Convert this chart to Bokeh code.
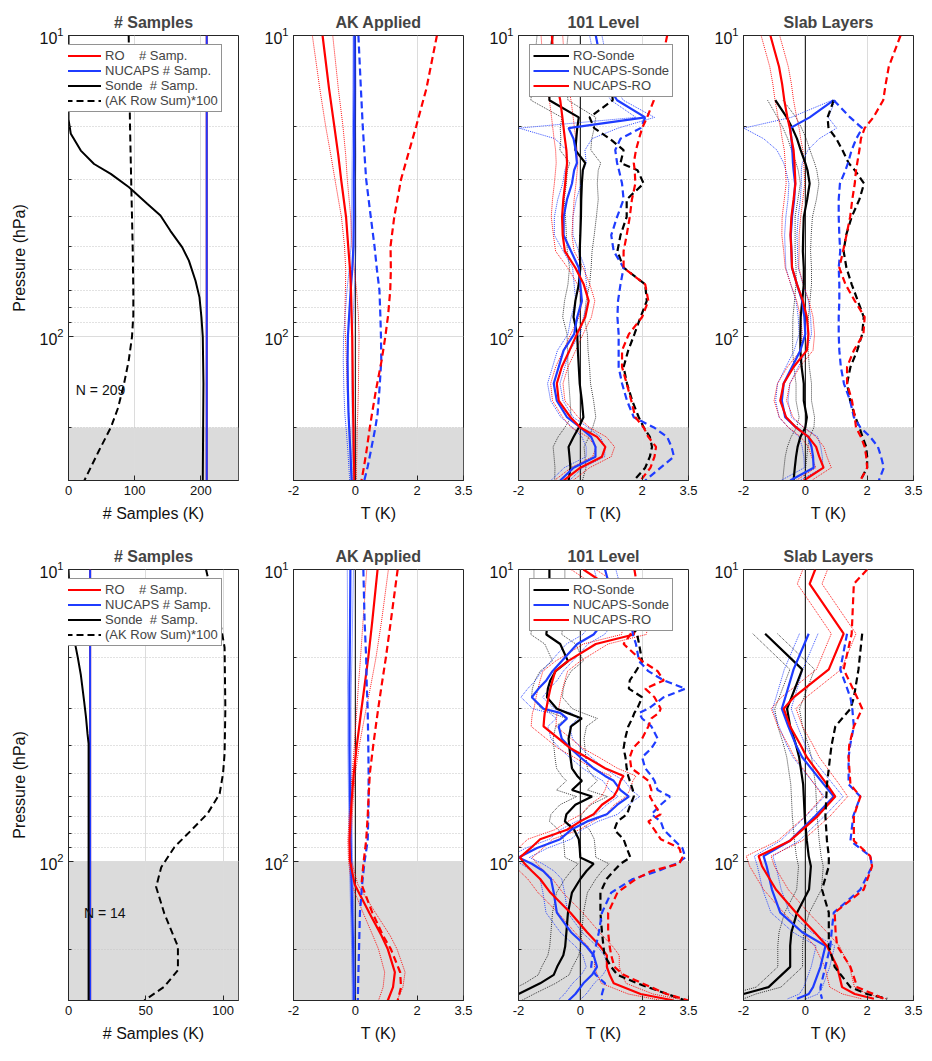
import numpy as np
from bokeh.plotting import figure
from bokeh.models import (Range1d, FixedTicker, BoxAnnotation, Legend, LegendItem,
                          Span, Label, LogTickFormatter)
from bokeh.layouts import column, row
from bokeh.embed import file_html
from bokeh.resources import INLINE

nan = float("nan")

# ---------------- DATA ----------------
P_TOP, P_BOTTOM = 10, 300
row_titles = ["# Samples", "AK Applied", "101 Level", "Slab Layers"]
n_samples = [209, 14]
shade_top = [200, 100]          # grey (low-level) region upper pressure per row

# panel 1, top row
sonde_p_top = [10, 19, 21.2, 24.1, 26.7, 28.8, 31.9, 36.2, 39.6, 44.5, 50.5, 55.9, 65.2, 74, 86.3, 100, 143, 300]
sonde_n_top = [0, 0, 3.5, 18.6, 38.7, 63.9, 91.5, 119, 139, 154, 172, 182, 192, 198, 201, 203, 204, 203]
ak_p_top = [10, 20, 32, 50, 70, 85, 100, 120, 143, 172, 200, 239, 300]
ak_sum_top = [91, 93, 95, 97, 98, 98, 96, 91, 84, 75, 64, 46, 24]
ro_n_top = [209, 209]
nucaps_n_top = [209, 209]
# panel 1, bottom row
sonde_p_bot = [10, 13, 16.2, 20, 23, 28, 32, 36.6, 39.5, 60, 100, 300]
sonde_n_bot = [0, 1, 2.6, 6, 8, 10, 11.3, 12.3, 13, 13, 13, 13]
ak_p_bot = [10, 12.4, 15, 18.5, 30, 42.8, 50, 58.7, 68.6, 78.3, 89.3, 104.8, 122.5, 151, 196, 236, 269, 300]
ak_sum_bot = [89, 93, 98, 101, 101.5, 101, 100, 97.8, 90, 79.4, 68.6, 60, 56.7, 62, 70.8, 70.8, 62, 49]
ro_n_bot = [14, 14]
nucaps_n_bot = [14, 14]
n_edge_p = [10, 300]

# AK applied panels
PAK = [10, 15, 20, 25, 30, 40, 50, 60, 70, 85, 100, 120, 150, 180, 200, 240, 270, 300]
t2_r_mean = [-1.06, -0.85, -0.68, -0.55, -0.46, -0.3, -0.23, -0.17, -0.14, -0.12, -0.1, -0.09, -0.08, -0.07, -0.06, -0.05, -0.04, -0.03]
t2_r_hw = [0.33, 0.3, 0.28, 0.24, 0.2, 0.15, 0.12, 0.14, 0.18, 0.22, 0.22, 0.2, 0.18, 0.15, 0.12, 0.1, 0.08, 0.07]
t2_r_std = [2.64, 2.3, 1.97, 1.7, 1.48, 1.26, 1.14, 1.15, 1.13, 1.06, 0.97, 0.85, 0.67, 0.54, 0.47, 0.36, 0.28, 0.2]
t2_b_mean = [-0.03, -0.03, -0.04, -0.04, -0.05, -0.05, -0.06, -0.1, -0.15, -0.2, -0.24, -0.25, -0.24, -0.22, -0.2, -0.16, -0.14, -0.12]
t2_b_hw = [0.04, 0.05, 0.05, 0.06, 0.06, 0.07, 0.08, 0.1, 0.12, 0.13, 0.14, 0.14, 0.13, 0.12, 0.1, 0.08, 0.07, 0.06]
t2_b_std = [0.1, 0.18, 0.24, 0.3, 0.35, 0.5, 0.62, 0.7, 0.78, 0.81, 0.83, 0.84, 0.78, 0.72, 0.65, 0.5, 0.4, 0.29]

b2_r_mean = [0.72, 0.55, 0.42, 0.3, 0.2, 0.05, -0.05, -0.11, -0.15, -0.19, -0.17, -0.02, 0.45, 0.85, 1.05, 1.28, 1.22, 1.05]
b2_r_hw = [0.35, 0.3, 0.25, 0.2, 0.15, 0.08, 0.05, 0.05, 0.05, 0.05, 0.05, 0.1, 0.2, 0.28, 0.3, 0.33, 0.32, 0.3]
b2_r_std = [1.37, 1.15, 0.99, 0.85, 0.74, 0.58, 0.47, 0.43, 0.4, 0.35, 0.27, 0.2, 0.55, 0.9, 1.15, 1.45, 1.48, 1.37]
b2_b_mean = [-0.16, -0.17, -0.18, -0.19, -0.19, -0.19, -0.18, -0.17, -0.16, -0.15, -0.14, -0.12, -0.1, -0.08, -0.07, -0.06, -0.05, -0.05]
b2_b_hw = [0.1, 0.08, 0.07, 0.06, 0.05, 0.05, 0.05, 0.05, 0.05, 0.05, 0.05, 0.05, 0.05, 0.05, 0.05, 0.05, 0.05, 0.05]
b2_b_std = [0.26, 0.3, 0.35, 0.37, 0.4, 0.42, 0.43, 0.43, 0.42, 0.4, 0.3, 0.22, 0.15, 0.13, 0.12, 0.1, 0.09, 0.08]

# top row, 101 level and slab panels
GT = [10, 12.7, 14.5, 16.4, 18.7, 20.3, 22, 24, 26.5, 28,
      31, 35, 40, 46, 52, 59, 67, 76, 86, 98,
      111, 126, 143, 163, 185, 200, 215, 232, 250, 272, 300]
t3_k_mean = [-0.9, -1.0, -1.0, -1.0, -0.05, -0.1, -0.13, -0.16, 0.16, 0.08,
             0.05, 0.03, 0.02, 0.0, -0.02, 0.0, -0.05, -0.16, -0.22, -0.1,
             -0.08, -0.05, -0.02, 0.05, 0.1, -0.05, -0.22, -0.38, -0.35, -0.32, -0.38]
t3_k_hw = [0.5, 0.5, 0.55, 0.6, 0.55, 0.55, 0.5, 0.5, 0.5, 0.5,
           0.5, 0.55, 0.5, 0.45, 0.4, 0.35, 0.35, 0.35, 0.35, 0.33,
           0.33, 0.35, 0.35, 0.38, 0.4, 0.45, 0.5, 0.5, 0.5, 0.5, 0.45]
t3_k_std = [nan, nan, 1.0, 1.05, 0.3, 0.45, 0.95, 1.4, 1.3, 1.85,
            2.05, 1.5, 1.5, 1.3, 1.2, 1.4, 2.1, 2.15, 1.95, 1.75,
            1.55, 1.4, 1.51, 1.68, 1.89, 2.05, 2.25, 2.32, 2.25, 2.1, 1.73]
t3_b_mean = [0.5, 0.7, 0.86, 1.19, 2.1, -0.38, -0.22, -0.15, -0.11, -0.2,
             -0.27, -0.43, -0.54, -0.54, -0.3, -0.05, 0.0, 0.05, -0.1, -0.2,
             -0.54, -0.7, -0.86, -0.76, -0.43, 0.0, 0.35, 0.49, 0.49, -0.22, -0.65]
t3_b_hw = [0.2, 0.2, 0.2, 0.2, 0.3, 1.6, 0.6, 0.3, 0.3, 0.3,
           0.3, 0.3, 0.3, 0.3, 0.25, 0.2, 0.2, 0.2, 0.2, 0.2,
           0.2, 0.2, 0.2, 0.2, 0.2, 0.25, 0.3, 0.3, 0.3, 0.3, 0.3]
t3_b_std = [nan, nan, nan, nan, 2.1, 1.95, 1.3, 1.13, 1.19, 1.25,
            1.35, 1.4, 1.19, 1.0, 1.08, 1.4, 1.3, 1.22, 1.2, 1.24,
            1.24, 1.24, 1.35, 1.51, 1.73, 2.38, 2.81, 2.95, 3.03, 2.6, 2.1]
t3_r_mean = [-0.92, -0.85, -0.76, -0.65, -0.58, -0.54, -0.5, -0.45, -0.43, -0.45,
             -0.49, -0.55, -0.59, -0.57, -0.5, -0.16, 0.11, 0.27, 0.16, -0.11,
             -0.35, -0.6, -0.76, -0.7, -0.32, 0.0, 0.54, 0.81, 0.7, 0.0, -0.54]
t3_r_hw = [0.35, 0.35, 0.35, 0.35, 0.35, 0.35, 0.35, 0.35, 0.35, 0.35,
           0.35, 0.35, 0.35, 0.3, 0.3, 0.25, 0.2, 0.2, 0.2, 0.2,
           0.2, 0.2, 0.2, 0.2, 0.25, 0.3, 0.3, 0.3, 0.3, 0.3, 0.3]
t3_r_std = [2.81, 2.6, 2.45, 2.38, 2.16, 2.0, 1.9, 1.8, 1.73, 1.76,
            1.78, 1.67, 1.6, 1.5, 1.4, 1.4, 2.1, 2.2, 2.0, 1.57,
            1.35, 1.35, 1.5, 1.65, 1.78, 2.05, 2.2, 2.45, 2.4, 2.27, 1.95]

t4_r_mean = [-1.13, -0.85, -0.75, -0.68, -0.58, -0.5, -0.45, -0.38, -0.35, -0.34,
             -0.32, -0.38, -0.45, -0.48, -0.45, -0.43, -0.27, -0.08, 0.05, 0.1,
             0.05, -0.38, -0.7, -0.81, -0.62, -0.3, 0.1, 0.35, 0.45, 0.59, -0.05]
t4_r_hw = [0.3, 0.3, 0.3, 0.3, 0.3, 0.3, 0.3, 0.3, 0.3, 0.3,
           0.3, 0.3, 0.3, 0.28, 0.25, 0.22, 0.2, 0.2, 0.2, 0.2,
           0.2, 0.2, 0.2, 0.2, 0.22, 0.25, 0.25, 0.25, 0.25, 0.25, 0.25]
t4_r_std = [3.08, 2.7, 2.6, 2.52, 2.2, 1.92, 1.8, 1.75, 1.68, 1.64,
            1.6, 1.52, 1.45, 1.33, 1.22, 1.1, 1.3, 1.6, 1.92, 1.88,
            1.57, 1.35, 1.35, 1.51, 1.6, 1.64, 1.8, 1.92, 1.97, 2.0, 1.78]
t4_k_mean = [nan, nan, nan, -0.97, -0.6, -0.42, -0.27, -0.15, 0.0, 0.07,
             0.14, 0.06, -0.05, -0.07, -0.08, -0.05, -0.05, -0.1, -0.15, -0.16,
             -0.16, -0.12, -0.05, -0.05, 0.05, 0.0, -0.16, -0.25, -0.3, -0.34, -0.38]
t4_k_hw = [nan, nan, nan, 0.25, 0.3, 0.3, 0.3, 0.3, 0.3, 0.3,
           0.3, 0.3, 0.28, 0.26, 0.25, 0.25, 0.25, 0.25, 0.25, 0.25,
           0.25, 0.25, 0.25, 0.25, 0.25, 0.28, 0.3, 0.33, 0.35, 0.35, 0.35]
t4_k_std = [nan, nan, nan, 0.92, 0.72, 0.75, 1.0, 1.2, 1.4, 1.6,
            1.9, 1.75, 1.5, 1.32, 1.24, 1.33, 1.5, 1.7, 1.89, 1.84,
            1.68, 1.46, 1.35, 1.45, 1.62, 1.75, 1.85, 1.97, 2.0, 2.0, 1.78]
t4_b_mean = [nan, nan, nan, 0.92, 0.14, -0.49, -0.45, -0.42, -0.4, -0.38,
             -0.33, -0.36, -0.43, -0.47, -0.45, -0.43, -0.27, -0.1, -0.03, 0.0,
             -0.16, -0.43, -0.7, -0.76, -0.65, -0.3, 0.1, 0.2, 0.25, 0.27, -0.49]
t4_b_hw = [nan, nan, nan, 0.05, 0.6, 1.5, 0.9, 0.5, 0.3, 0.25,
           0.2, 0.2, 0.2, 0.2, 0.2, 0.2, 0.2, 0.2, 0.2, 0.2,
           0.2, 0.2, 0.2, 0.2, 0.2, 0.25, 0.3, 0.3, 0.3, 0.3, 0.3]
t4_b_std = [nan, nan, nan, 0.92, 1.45, 1.84, 1.65, 1.5, 1.38, 1.3,
            1.12, 1.08, 1.08, 1.1, 1.13, 1.08, 1.1, 1.1, 1.08, 1.08,
            1.1, 1.15, 1.25, 1.45, 1.57, 1.78, 2.1, 2.35, 2.45, 2.54, 2.38]

# bottom row, 101 level
GB3 = [10, 13.5, 16.7, 18, 20.6, 22.3, 24, 25.6, 27.4, 30,
       31, 32.4, 34.5, 38, 41, 44, 48, 51, 53, 57,
       60, 64, 69, 73, 78, 84, 90, 97, 102, 108,
       115, 128, 150, 175, 196, 210, 230, 245, 262, 285, 300]
b3_k_mean = [-1.0, -1.0, -1.1, -0.65, -0.4, -0.8, -0.97, -1.05, -1.08, -0.76,
             -0.43, 0.05, -0.3, -0.38, -0.35, -0.32, -0.27, -0.1, 0.05, -0.27,
             0.38, -0.16, -0.45, -0.5, -0.2, -0.05, -0.02, 0.0, 0.43, 0.2,
             0.0, -0.27, -0.4, -0.45, -0.49, -0.55, -0.75, -0.86, -1.3, -2.0, -2.4]
b3_k_std = [nan, 1.3, 1.84, 1.9, 2.0, 1.8, 1.6, 1.57, 2.0, 1.84,
            1.75, 1.68, 1.55, 1.45, 1.4, 1.46, 1.5, 1.55, 1.6, 1.7,
            1.73, 1.62, 1.51, 1.2, 1.1, 1.4, 1.5, 1.62, 1.3, 1.08,
            0.85, 0.65, 0.65, 0.7, 0.75, 0.78, 1.0, 1.2, 1.84, 2.81, 3.4]
b3_b_mean = [0.8, 1.13, 0.43, -0.1, -0.6, -0.9, -1.1, -1.35, -1.57, -1.19,
             -0.65, -0.43, -0.7, -0.6, -0.32, 0.0, 0.43, 0.8, 1.08, 1.3,
             1.57, 1.2, 0.86, 0.22, -0.3, -0.65, -1.4, -2.0, -1.57, -1.2,
             -0.95, -0.86, -0.76, -0.3, 0.2, 0.43, 0.54, 0.38, 0.1, -0.16, -0.38]
b3_b_std = [nan, 1.6, 1.7, 1.8, 1.9, 2.2, 2.7, 3.4, 2.7, 2.2,
            1.9, 2.0, 2.3, 2.5, 2.3, 2.0, 2.1, 2.3, 2.4, 2.5,
            2.9, 2.6, 2.3, 2.6, 2.7, 3.0, 3.3, 3.4, 3.1, 2.5,
            1.7, 1.0, 0.7, 0.6, 0.5, 0.4, 0.35, 0.5, 0.8, 0.7, 0.7]
b3_r_mean = [0.1, 1.95, 1.73, 0.5, -0.4, -0.81, -0.9, -0.97, -1.03, -1.1,
             -1.15, -1.17, -1.19, -0.7, -0.32, 0.2, 0.8, 1.4, 1.3, 1.2,
             1.08, 0.7, 0.43, 0.0, -0.43, -1.3, -1.6, -1.95, -1.8, -1.57,
             -1.3, -0.97, -0.32, 0.22, 0.65, 0.86, 0.86, 0.95, 1.08, 1.95, 3.03]
b3_r_std = [1.75, 1.95, 1.62, 1.4, 2.0, 2.5, 2.7, 2.1, 2.4, 2.6,
            2.55, 2.3, 2.2, 2.0, 1.7, 1.6, 1.65, 2.0, 2.2, 2.3,
            2.25, 2.4, 2.6, 2.2, 2.4, 2.6, 3.2, 3.3, 3.2, 2.3,
            1.8, 1.2, 0.9, 0.9, 0.95, 1.0, 1.1, 1.4, 2.0, 2.8, 3.5]
b3_k_hw, b3_b_hw, b3_r_hw = 0.5, 0.35, 0.4

# bottom row, slab layers
GB4 = [10, 11.2, 16.6, 22, 27.5, 30, 34.5, 40, 44, 54.5, 60, 70, 85, 96, 104, 125, 150, 175, 195, 230, 270, 285, 296]
b4_r_mean = [0.32, 0.14, 1.24, 0.76, -0.39, -0.7, -0.49, -0.15, 0.05, 0.7, 0.97, 0.4, -0.49, -1.51, -1.4, -0.95, -0.3, 0.3, 0.7, 1.03, 1.19, 1.6, 2.22]
b4_k_mean = [nan, nan, -1.3, -0.1, -0.45, -0.59, -0.49, -0.3, -0.2, -0.07, -0.05, -0.02, 0.05, 0.11, 0.18, 0.12, -0.27, -0.45, -0.49, -0.49, -1.19, -2.0, -2.4]
b4_b_mean = [nan, nan, 0.11, -0.38, -0.65, -0.76, -0.55, -0.3, -0.1, 0.6, 0.92, 0.32, -0.5, -1.35, -1.25, -1.08, -0.81, -0.1, 0.65, 0.49, 0.25, 0.11, -0.27]
b4_r_std = [2.0, 1.57, 1.5, 1.24, 1.68, 1.84, 1.57, 1.42, 1.4, 1.46, 1.78, 1.57, 1.57, 2.1, 2.16, 1.89, 0.95, 0.98, 1.03, 1.46, 1.68, 2.2, 2.54]
b4_k_std = [nan, nan, 1.84, 1.72, 1.57, 1.46, 0.97, 0.85, 0.8, 0.7, 0.68, 0.65, 0.7, 0.76, 0.76, 0.54, 0.76, 0.76, 0.76, 0.95, 1.46, 2.0, 2.65]
b4_b_std = [nan, nan, 1.35, 1.13, 1.46, 1.52, 1.57, 1.45, 1.4, 1.4, 1.78, 1.55, 1.46, 2.1, 2.16, 1.78, 0.92, 0.85, 0.81, 0.65, 0.49, 0.5, 0.54]
b4_k_hw, b4_b_hw, b4_r_hw = 0.4, 0.3, 0.4

# ---------------- STYLE ----------------
FONT = "Liberation Sans"
RED = "#ff0000"
BLUE = "#1f3cff"
BLACK = "#000000"
AXC = "#262626"
ROW_GEOM = [dict(top=35, fh=445, bot=59), dict(top=30, fh=431, bot=55)]


def make_panel(ri, ci, xr, xticks, xlabel):
    g = ROW_GEOM[ri]
    p = figure(title=row_titles[ci], x_range=Range1d(*xr), y_range=Range1d(P_BOTTOM, P_TOP),
               y_axis_type="log", frame_width=170, frame_height=g["fh"],
               min_border_left=68 if ci == 0 else 45, min_border_right=10,
               min_border_top=g["top"], min_border_bottom=g["bot"],
               output_backend="svg", toolbar_location=None)
    p.title.text_font = FONT
    p.title.text_font_size = "16px"
    p.title.text_font_style = "bold"
    p.title.align = "center"
    p.title.standoff = 10
    p.outline_line_color = AXC
    p.outline_line_width = 1
    p.background_fill_color = "white"
    p.border_fill_color = "white"

    p.xaxis.ticker = FixedTicker(ticks=xticks)
    p.xaxis.major_label_overrides = {t: (str(int(t)) if float(t).is_integer() else str(t)) for t in xticks}
    p.xaxis.axis_label = xlabel
    p.yaxis.ticker = FixedTicker(ticks=[10, 100], minor_ticks=[20, 30, 40, 50, 60, 70, 80, 90, 200])
    p.yaxis.formatter = LogTickFormatter()
    if ci == 0:
        p.yaxis.axis_label = "Pressure (hPa)"
    for ax in (p.xaxis[0], p.yaxis[0]):
        ax.axis_line_color = AXC
        ax.major_tick_line_color = AXC
        ax.minor_tick_line_color = AXC
        ax.major_tick_in = 5
        ax.major_tick_out = 0
        ax.minor_tick_in = 3
        ax.minor_tick_out = 0
        ax.major_label_text_font = FONT
        ax.major_label_text_font_size = "13px"
        ax.major_label_text_color = "#111111"
        ax.axis_label_text_font = FONT
        ax.axis_label_text_font_size = "16px"
        ax.axis_label_text_font_style = "normal"
        ax.axis_label_text_color = "#111111"
    p.yaxis.major_label_text_font_size = "16px"
    p.xaxis.minor_tick_line_color = None
    p.xaxis.axis_label_standoff = 7
    p.yaxis.axis_label_standoff = 8

    p.xgrid.grid_line_color = "#dcdcdc"
    p.ygrid.grid_line_color = "#dcdcdc"
    p.ygrid.minor_grid_line_color = "#c4c4c4"
    p.ygrid.minor_grid_line_dash = "1 2"
    p.ygrid.minor_grid_line_width = 1

    p.add_layout(BoxAnnotation(top=shade_top[ri], bottom=P_BOTTOM, fill_color="#dbdbdb",
                               fill_alpha=1.0, line_color=None, level="image"))
    return p


def zero_line(p):
    p.add_layout(Span(location=0, dimension="height", line_color=BLACK, line_width=1, level="underlay"))


def diff_panel(p, P, series):
    """series: list of (mean, hw, std, color)"""
    P = np.asarray(P, float)
    for mean, hw, std, color in series:
        m = np.asarray(mean, float)
        h = np.asarray(hw, float) * np.ones_like(m)
        a = 0.75 if color == BLACK else 0.9
        p.line(m - h, P, line_color=color, line_width=1, line_dash="1 1", line_alpha=a)
        p.line(m + h, P, line_color=color, line_width=1, line_dash="1 1", line_alpha=a)
    mean_r = []
    for mean, hw, std, color in series:
        mean_r.append(p.line(np.asarray(mean, float), P, line_color=color, line_width=2.2))
    for mean, hw, std, color in series:
        p.line(np.asarray(std, float), P, line_color=color, line_width=2.2, line_dash="7 4")
    return mean_r


def add_legend(p, items, loc):
    lg = Legend(items=items, location=loc, margin=0, padding=3, spacing=0,
                label_text_font=FONT, label_text_font_size="13px",
                glyph_width=36, glyph_height=13, label_height=13, label_standoff=4,
                border_line_color=AXC, border_line_width=1,
                background_fill_color="white", background_fill_alpha=1.0)
    p.add_layout(lg)


figs = []
for ri in range(2):
    g = ROW_GEOM[ri]
    # ---- panel 1: sample counts ----
    xmax = 257 if ri == 0 else 110
    xt = [0, 100, 200] if ri == 0 else [0, 50, 100]
    p1 = make_panel(ri, 0, (0, xmax), xt, "# Samples (K)")
    ro_n = ro_n_top if ri == 0 else ro_n_bot
    nu_n = nucaps_n_top if ri == 0 else nucaps_n_bot
    sp = sonde_p_top if ri == 0 else sonde_p_bot
    sn = sonde_n_top if ri == 0 else sonde_n_bot
    ap = ak_p_top if ri == 0 else ak_p_bot
    asum = ak_sum_top if ri == 0 else ak_sum_bot
    r_ro = p1.line(ro_n, n_edge_p, line_color=RED, line_width=2)
    r_nu = p1.line(nu_n, n_edge_p, line_color=BLUE, line_width=2)
    r_so = p1.line(sn, sp, line_color=BLACK, line_width=2)
    r_ak = p1.line(asum, ap, line_color=BLACK, line_width=2, line_dash="7 4")
    p1.add_layout(Label(x=xmax * 0.043 if ri == 0 else 10, y=150, text=f"N = {n_samples[ri]}",
                        text_font=FONT, text_font_size="14px", text_baseline="middle",
                        text_align="left", text_color="#111111"))
    h1 = 4 * 15 + 6
    add_legend(p1, [LegendItem(label="RO\u00a0\u00a0\u00a0\u00a0# Samp.", renderers=[r_ro]),
                    LegendItem(label="NUCAPS # Samp.", renderers=[r_nu]),
                    LegendItem(label="Sonde\u00a0\u00a0# Samp.", renderers=[r_so]),
                    LegendItem(label="(AK Row Sum)*100", renderers=[r_ak])],
               (-7, g["fh"] - 11 - h1))

    # ---- panel 2: AK applied ----
    tx = [-2, 0, 2, 3.5]
    p2 = make_panel(ri, 1, (-2, 3.5), tx, "T (K)")
    zero_line(p2)
    if ri == 0:
        diff_panel(p2, PAK, [(t2_b_mean, t2_b_hw, t2_b_std, BLUE), (t2_r_mean, t2_r_hw, t2_r_std, RED)])
    else:
        diff_panel(p2, PAK, [(b2_b_mean, b2_b_hw, b2_b_std, BLUE), (b2_r_mean, b2_r_hw, b2_r_std, RED)])

    # ---- panel 3: 101 level ----
    p3 = make_panel(ri, 2, (-2, 3.5), tx, "T (K)")
    zero_line(p3)
    if ri == 0:
        rs = diff_panel(p3, GT, [(t3_k_mean, t3_k_hw, t3_k_std, BLACK),
                                 (t3_b_mean, t3_b_hw, t3_b_std, BLUE),
                                 (t3_r_mean, t3_r_hw, t3_r_std, RED)])
    else:
        rs = diff_panel(p3, GB3, [(b3_k_mean, b3_k_hw, b3_k_std, BLACK),
                                  (b3_b_mean, b3_b_hw, b3_b_std, BLUE),
                                  (b3_r_mean, b3_r_hw, b3_r_std, RED)])
    h3 = 3 * 15 + 6
    add_legend(p3, [LegendItem(label="RO-Sonde", renderers=[rs[0]]),
                    LegendItem(label="NUCAPS-Sonde", renderers=[rs[1]]),
                    LegendItem(label="NUCAPS-RO", renderers=[rs[2]])],
               (11, g["fh"] - 11 - h3))

    # ---- panel 4: slab layers ----
    p4 = make_panel(ri, 3, (-2, 3.5), tx, "T (K)")
    zero_line(p4)
    if ri == 0:
        diff_panel(p4, GT, [(t4_k_mean, t4_k_hw, t4_k_std, BLACK),
                            (t4_b_mean, t4_b_hw, t4_b_std, BLUE),
                            (t4_r_mean, t4_r_hw, t4_r_std, RED)])
    else:
        diff_panel(p4, GB4, [(b4_k_mean, b4_k_hw, b4_k_std, BLACK),
                             (b4_b_mean, b4_b_hw, b4_b_std, BLUE),
                             (b4_r_mean, b4_r_hw, b4_r_std, RED)])
    figs.append(row(p1, p2, p3, p4))

layout = column(*figs)
open("out.html", "w").write(file_html(layout, INLINE))
